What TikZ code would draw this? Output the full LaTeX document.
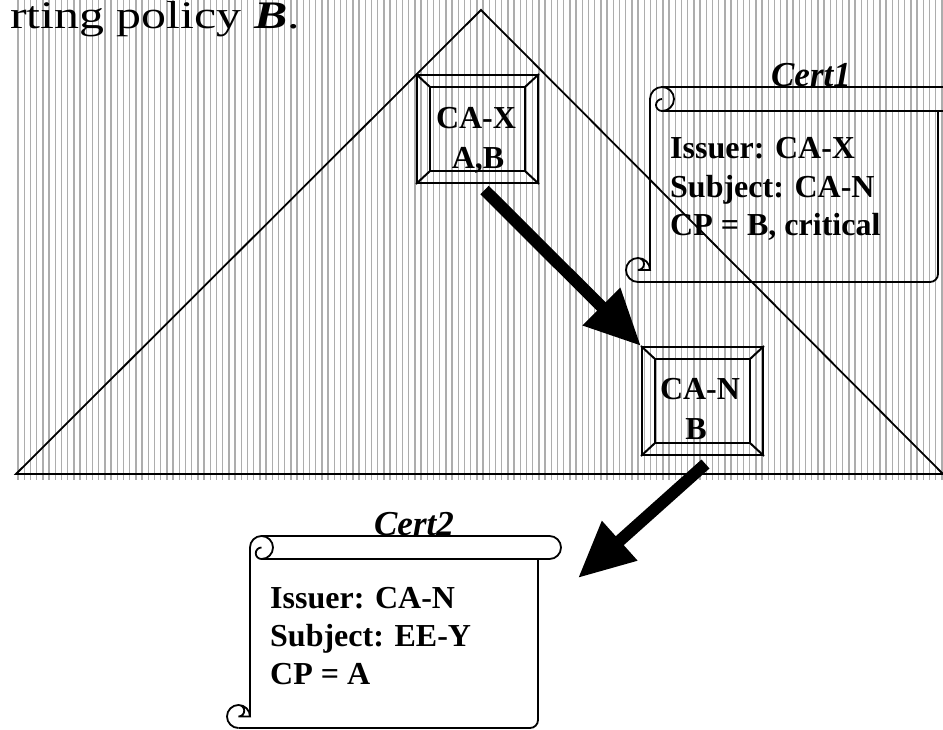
\documentclass[tikz,border=0pt]{standalone}
\usepackage{fontspec}
\usepackage{graphicx}
\setmainfont{Liberation Serif}
\usetikzlibrary{arrows.meta}

% scroll-shaped certificate: body left, body right, roll top, roll height, body bottom
\newcommand{\certscroll}[5]{%
  \pgfmathsetmacro{\sxl}{#1}\pgfmathsetmacro{\sxr}{#2}%
  \pgfmathsetmacro{\syt}{#3}\pgfmathsetmacro{\sh}{#4}%
  \pgfmathsetmacro{\sbot}{#5}%
  \pgfmathsetmacro{\shr}{#4/2}\pgfmathsetmacro{\sq}{#4/4}%
  \pgfmathsetmacro{\syb}{#3+#4}%
  % roll: left edge, rounded top-left, top line, round right end
  \draw[scrollline] (\sxl,\sbot-\shr) -- (\sxl,\syt+\shr)
     arc[start angle=180,end angle=270,radius=\shr] -- (\sxr+\shr,\syt)
     arc[start angle=270,end angle=450,radius=\shr] -- (\sxl+\shr,\syb);
  % curl at the left end of the roll
  \draw[scrollline] (\sxl+\shr,\syt) arc[start angle=270,end angle=450,radius=\shr]
     arc[start angle=90,end angle=270,radius=\sq];
  % body: right edge, rounded corner, bottom edge
  \draw[scrollline] (\sxr,\syb) -- (\sxr,\sbot-8) arc[start angle=0,end angle=90,radius=8]
     -- (\sxl-\shr,\sbot);
  % curl at the bottom left
  \draw[scrollline] (\sxl-\shr,\sbot) arc[start angle=90,end angle=360,radius=\shr]
     -- (\sxl-\shr,\sbot-\shr) arc[start angle=90,end angle=-90,radius=\sq];
}

% bevelled frame drawn round a named box node
\newcommand{\bevelframe}[1]{%
  \draw[boxline] ([shift={(14,13)}]#1.north west) rectangle ([shift={(-14,-13)}]#1.south east);
  \draw[boxline] (#1.north west) -- ([shift={(14,13)}]#1.north west)
                 (#1.north east) -- ([shift={(-14,13)}]#1.north east)
                 (#1.south west) -- ([shift={(14,-13)}]#1.south west)
                 (#1.south east) -- ([shift={(-14,-13)}]#1.south east);
}

\begin{document}
\begin{tikzpicture}[x=1pt,y=-1pt,
  stripe/.style={draw=black!32,line width=1.4pt},
  outline/.style={draw=black,line width=1.8pt,line join=miter},
  boxline/.style={draw=black,line width=2pt},
  cabox/.style={boxline,minimum width=121pt,minimum height=108pt,inner sep=0pt},
  scrollline/.style={draw=black,line width=1.8pt},
  boldtext/.style={font=\fontsize{32}{38}\selectfont\bfseries,inner sep=0pt},
  certname/.style={font=\fontsize{35}{35}\selectfont\bfseries\itshape,inner sep=0pt},
  bigarrow/.style={draw=black,line width=12pt,-{Triangle[length=56pt,width=50pt]}}]
\useasboundingbox (0,0) rectangle (943,729);
\clip (0,0) rectangle (943,729);

% vertical hatching behind the hierarchy
\foreach \i in {0,...,150} {
  \draw[stripe] ({18+6.2*\i},0) -- ({18+6.2*\i},480);
}

% the hierarchy triangle
\coordinate (apex) at (481,10);
\coordinate (baseL) at (16,474);
\coordinate (baseR) at (943,474);
\draw[outline] (baseL) -- (apex) -- (baseR) -- cycle;

% heading fragment
\node[anchor=base east,inner sep=0pt,font=\fontsize{39}{39}\selectfont] (heading) at (300,28)
  {\scalebox{1.28}[1]{rting policy \textbf{\textit{B}}.}};

% CA boxes
\node[cabox] (cax) at (477.5,129) {};
\bevelframe{cax}
\node[boldtext,anchor=base] (caxname) at (476,128) {CA-X};
\node[boldtext,anchor=base] (caxpol) at (478,168) {A,B};

\node[cabox] (can) at (702.5,401) {};
\bevelframe{can}
\node[boldtext,anchor=base] (canname) at (700,399) {CA-N};
\node[boldtext,anchor=base] (canpol) at (696,439) {B};

% certificate 1
\certscroll{650}{938}{87}{24}{282}
\node[certname,anchor=base] (cert1) at (811,86) {Cert1};
\node[boldtext,anchor=base west] (c1a) at (670,158) {Issuer: CA-X};
\node[boldtext,anchor=base west] (c1b) at (670,197) {Subject: CA-N};
\node[boldtext,anchor=base west] (c1c) at (670,235) {CP = B, critical};

% certificate 2
\certscroll{250}{538}{536}{23}{728}
\node[certname,anchor=base] (cert2) at (414,535) {Cert2};
\node[boldtext,anchor=base west] (c2a) at (270,608) {Issuer: CA-N};
\node[boldtext,anchor=base west] (c2b) at (270,646) {Subject: EE-Y};
\node[boldtext,anchor=base west] (c2c) at (270,684) {CP = A};

% certification path arrows
\coordinate (tip2) at (578,578);
\draw[bigarrow] ([shift={(7,6)}]cax.south) -- (can.north west);
\draw[bigarrow] ([shift={(3,8)}]can.south) -- (tip2);
\end{tikzpicture}
\end{document}
